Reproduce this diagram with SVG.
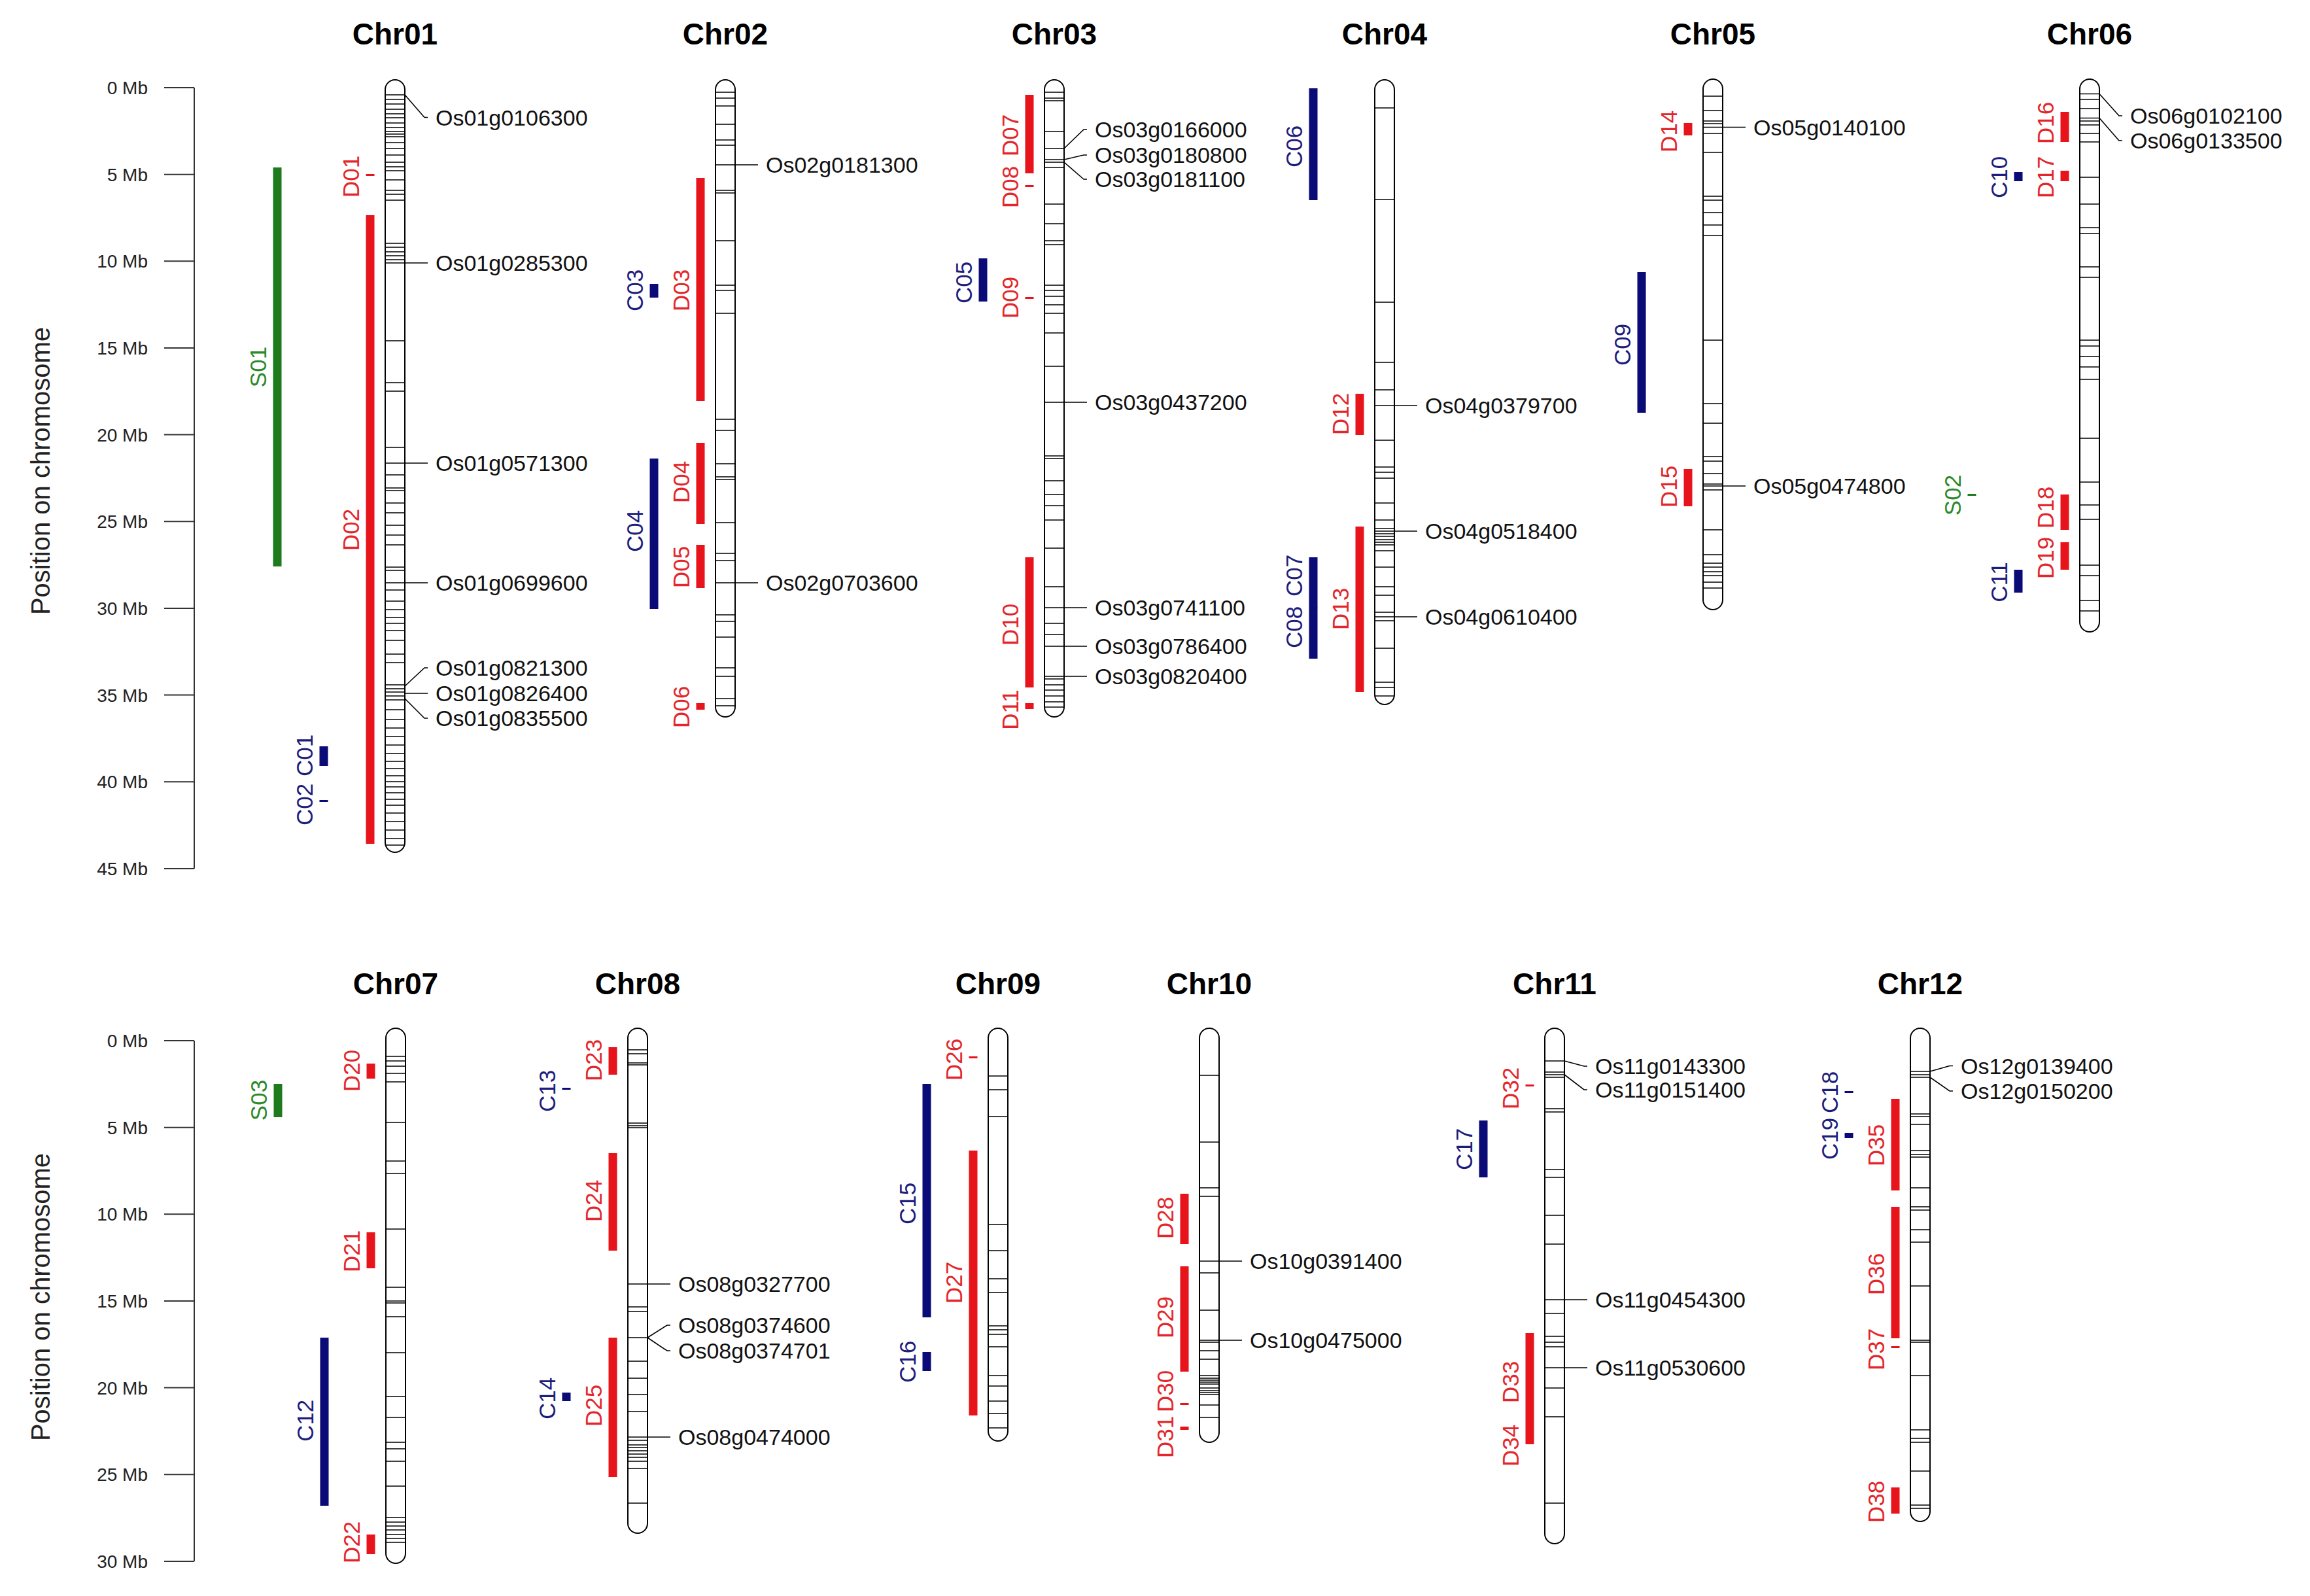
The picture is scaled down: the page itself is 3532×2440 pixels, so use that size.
<svg xmlns="http://www.w3.org/2000/svg" width="3532" height="2440" viewBox="0 0 3532 2440">
<style>
text{font-family:"Liberation Sans",Arial,Helvetica,sans-serif}
.bg{fill:#fff}
.title{font-size:46px;font-weight:bold;fill:#000;text-anchor:middle}
.tick{font-size:28px;fill:#222;text-anchor:end}
.atitle{font-size:40px;fill:#222;text-anchor:middle}
.axis{stroke:#333;stroke-width:2;fill:none}
.chr{fill:#fff;stroke:#000;stroke-width:2}
.band{stroke:#000;stroke-width:1.6;fill:none}
.gene{font-size:34px;fill:#111}
.rl{font-size:35px;text-anchor:middle}
.tr{fill:#e3262b}.tb{fill:#1d1d7c}.tg{fill:#2b8a2b}
.br{fill:#e8141c}.bb{fill:#0b0b78}.bg2{fill:#1d7a1d}
.conn{stroke:#000;stroke-width:1.6;fill:none}
</style>
<rect class="bg" x="0" y="0" width="3532" height="2440"/>

<g id="axis-top">
<text class="atitle" transform="translate(76,720) rotate(-90)">Position on chromosome</text>
<path class="axis" d="M297,134V1328M251,134H297M251,266.7H297M251,399.3H297M251,532H297M251,664.6H297M251,797.3H297M251,930H297M251,1062.6H297M251,1195.2H297M251,1327.9H297"/>
<text class="tick" x="226" y="144">0 Mb</text>
<text class="tick" x="226" y="277">5 Mb</text>
<text class="tick" x="226" y="409">10 Mb</text>
<text class="tick" x="226" y="542">15 Mb</text>
<text class="tick" x="226" y="675">20 Mb</text>
<text class="tick" x="226" y="807">25 Mb</text>
<text class="tick" x="226" y="940">30 Mb</text>
<text class="tick" x="226" y="1073">35 Mb</text>
<text class="tick" x="226" y="1205">40 Mb</text>
<text class="tick" x="226" y="1338">45 Mb</text>
</g>

<g id="axis-bottom">
<text class="atitle" transform="translate(76,1983) rotate(-90)">Position on chromosome</text>
<path class="axis" d="M297,1591V2387M251,1591H297M251,1723.7H297M251,1856.3H297M251,1989H297M251,2121.6H297M251,2254.3H297M251,2386.9H297"/>
<text class="tick" x="226" y="1601">0 Mb</text>
<text class="tick" x="226" y="1734">5 Mb</text>
<text class="tick" x="226" y="1866">10 Mb</text>
<text class="tick" x="226" y="1999">15 Mb</text>
<text class="tick" x="226" y="2132">20 Mb</text>
<text class="tick" x="226" y="2264">25 Mb</text>
<text class="tick" x="226" y="2397">30 Mb</text>
</g>

<g id="chr01">
<text class="title" x="604" y="68">Chr01</text>
<rect class="chr" x="589" y="122" width="30" height="1181" rx="15"/>
<path class="band" d="M589,145h30M589,152h30M589,159h30M589,167h30M589,174h30M589,180h30M589,188h30M589,195h30M589,201h30M589,205h30M589,209h30M589,218h30M589,227h30M589,237h30M589,248h30M589,255h30M589,261h30M589,275h30M589,291h30M589,297h30M589,306h30M589,372h30M589,378h30M589,385h30M589,391h30M589,397h30M589,402h30M589,521h30M589,585h30M589,598h30M589,684h30M589,708h30M589,726h30M589,746h30M589,750h30M589,769h30M589,784h30M589,803h30M589,818h30M589,833h30M589,867h30M589,872h30M589,891h30M589,902h30M589,919h30M589,932h30M589,944h30M589,953h30M589,964h30M589,979h30M589,1000h30M589,1013h30M589,1047h30M589,1053h30M589,1058h30M589,1064h30M589,1070h30M589,1085h30M589,1100h30M589,1113h30M589,1126h30M589,1139h30M589,1152h30M589,1164h30M589,1175h30M589,1186h30M589,1195h30M589,1203h30M589,1212h30M589,1222h30M589,1231h30M589,1243h30M589,1256h30M589,1269h30M589,1282h30M589,1292h30"/>
<rect class="bg2" x="417.5" y="256" width="13" height="610"/>
<rect class="br" x="559.5" y="266" width="13" height="3"/>
<rect class="br" x="559.5" y="329" width="13" height="961"/>
<rect class="bb" x="488.5" y="1141" width="13" height="30"/>
<rect class="bb" x="488.5" y="1223" width="13" height="3"/>
<text class="rl tg" transform="translate(407,561) rotate(-90)">S01</text>
<text class="rl tr" transform="translate(549,270) rotate(-90)">D01</text>
<text class="rl tr" transform="translate(549,810) rotate(-90)">D02</text>
<text class="rl tb" transform="translate(478,1155) rotate(-90)">C01</text>
<text class="rl tb" transform="translate(478,1230) rotate(-90)">C02</text>
<text class="gene" x="666" y="191.5">Os01g0106300</text>
<text class="gene" x="666" y="414">Os01g0285300</text>
<text class="gene" x="666" y="720">Os01g0571300</text>
<text class="gene" x="666" y="903">Os01g0699600</text>
<text class="gene" x="666" y="1033">Os01g0821300</text>
<text class="gene" x="666" y="1072">Os01g0826400</text>
<text class="gene" x="666" y="1110">Os01g0835500</text>
</g>

<g id="chr02">
<text class="title" x="1109" y="68">Chr02</text>
<rect class="chr" x="1094" y="122" width="30" height="974" rx="15"/>
<path class="band" d="M1094,141h30M1094,150h30M1094,162h30M1094,190h30M1094,214h30M1094,222h30M1094,252h30M1094,291h30M1094,295h30M1094,368h30M1094,436h30M1094,444h30M1094,479h30M1094,641h30M1094,658h30M1094,709h30M1094,729h30M1094,733h30M1094,799h30M1094,846h30M1094,857h30M1094,891h30M1094,940h30M1094,950h30M1094,974h30M1094,1021h30M1094,1034h30M1094,1068h30M1094,1079h30"/>
<rect class="br" x="1064.5" y="272" width="13" height="341"/>
<rect class="br" x="1064.5" y="677" width="13" height="124"/>
<rect class="br" x="1064.5" y="833" width="13" height="66"/>
<rect class="br" x="1064.5" y="1075" width="13" height="10"/>
<rect class="bb" x="993.5" y="434" width="13" height="21"/>
<rect class="bb" x="993.5" y="701" width="13" height="230"/>
<text class="rl tr" transform="translate(1054,444) rotate(-90)">D03</text>
<text class="rl tr" transform="translate(1054,737) rotate(-90)">D04</text>
<text class="rl tr" transform="translate(1054,867) rotate(-90)">D05</text>
<text class="rl tr" transform="translate(1054,1081) rotate(-90)">D06</text>
<text class="rl tb" transform="translate(983,444) rotate(-90)">C03</text>
<text class="rl tb" transform="translate(983,812) rotate(-90)">C04</text>
<text class="gene" x="1171" y="264">Os02g0181300</text>
<text class="gene" x="1171" y="903">Os02g0703600</text>
</g>

<g id="chr03">
<text class="title" x="1612" y="68">Chr03</text>
<rect class="chr" x="1597" y="122" width="30" height="974" rx="15"/>
<path class="band" d="M1597,141h30M1597,150h30M1597,154h30M1597,201h30M1597,227h30M1597,244h30M1597,248h30M1597,256h30M1597,312h30M1597,342h30M1597,368h30M1597,374h30M1597,436h30M1597,444h30M1597,453h30M1597,466h30M1597,479h30M1597,509h30M1597,560h30M1597,615h30M1597,697h30M1597,701h30M1597,735h30M1597,756h30M1597,773h30M1597,795h30M1597,838h30M1597,897h30M1597,929h30M1597,953h30M1597,970h30M1597,988h30M1597,1034h30M1597,1038h30M1597,1047h30M1597,1055h30M1597,1064h30M1597,1073h30M1597,1081h30"/>
<rect class="br" x="1567.5" y="145" width="13" height="120"/>
<rect class="br" x="1567.5" y="283" width="13" height="3"/>
<rect class="br" x="1567.5" y="454" width="13" height="3"/>
<rect class="br" x="1567.5" y="852" width="13" height="199"/>
<rect class="br" x="1567.5" y="1075" width="13" height="9"/>
<rect class="bb" x="1496.5" y="395" width="13" height="66"/>
<text class="rl tr" transform="translate(1557,207) rotate(-90)">D07</text>
<text class="rl tr" transform="translate(1557,286) rotate(-90)">D08</text>
<text class="rl tr" transform="translate(1557,455) rotate(-90)">D09</text>
<text class="rl tr" transform="translate(1557,955) rotate(-90)">D10</text>
<text class="rl tr" transform="translate(1557,1085) rotate(-90)">D11</text>
<text class="rl tb" transform="translate(1486,432) rotate(-90)">C05</text>
<text class="gene" x="1674" y="210">Os03g0166000</text>
<text class="gene" x="1674" y="249">Os03g0180800</text>
<text class="gene" x="1674" y="286">Os03g0181100</text>
<text class="gene" x="1674" y="627">Os03g0437200</text>
<text class="gene" x="1674" y="941">Os03g0741100</text>
<text class="gene" x="1674" y="1000">Os03g0786400</text>
<text class="gene" x="1674" y="1046">Os03g0820400</text>
</g>

<g id="chr04">
<text class="title" x="2117" y="68">Chr04</text>
<rect class="chr" x="2102" y="122" width="30" height="955" rx="15"/>
<path class="band" d="M2102,165h30M2102,305h30M2102,462h30M2102,554h30M2102,596h30M2102,620h30M2102,673h30M2102,714h30M2102,722h30M2102,731h30M2102,769h30M2102,795h30M2102,808h30M2102,812h30M2102,816h30M2102,820h30M2102,825h30M2102,829h30M2102,833h30M2102,842h30M2102,867h30M2102,897h30M2102,910h30M2102,936h30M2102,943h30M2102,949h30M2102,991h30M2102,1043h30M2102,1051h30M2102,1064h30"/>
<rect class="bb" x="2001.5" y="135" width="13" height="171"/>
<rect class="br" x="2072.5" y="602" width="13" height="63"/>
<rect class="br" x="2072.5" y="805" width="13" height="253"/>
<rect class="bb" x="2001.5" y="852" width="13" height="78"/>
<rect class="bb" x="2001.5" y="929" width="13" height="78"/>
<text class="rl tb" transform="translate(1991,224) rotate(-90)">C06</text>
<text class="rl tr" transform="translate(2062,633) rotate(-90)">D12</text>
<text class="rl tr" transform="translate(2062,931) rotate(-90)">D13</text>
<text class="rl tb" transform="translate(1991,880) rotate(-90)">C07</text>
<text class="rl tb" transform="translate(1991,959) rotate(-90)">C08</text>
<text class="gene" x="2179" y="632">Os04g0379700</text>
<text class="gene" x="2179" y="824">Os04g0518400</text>
<text class="gene" x="2179" y="955">Os04g0610400</text>
</g>

<g id="chr05">
<text class="title" x="2619" y="68">Chr05</text>
<rect class="chr" x="2604" y="121" width="30" height="811" rx="15"/>
<path class="band" d="M2604,147h30M2604,169h30M2604,185h30M2604,189h30M2604,194.5h30M2604,204h30M2604,233h30M2604,300h30M2604,306h30M2604,325h30M2604,344h30M2604,360h30M2604,520h30M2604,617h30M2604,647h30M2604,698h30M2604,705h30M2604,724h30M2604,740h30M2604,743h30M2604,749h30M2604,810h30M2604,848h30M2604,861h30M2604,867h30M2604,874h30M2604,880h30M2604,890h30M2604,899h30"/>
<rect class="br" x="2574.5" y="188" width="13" height="19"/>
<rect class="bb" x="2503.5" y="416" width="13" height="215"/>
<rect class="br" x="2574.5" y="717" width="13" height="57"/>
<text class="rl tr" transform="translate(2564,201) rotate(-90)">D14</text>
<text class="rl tb" transform="translate(2493,527) rotate(-90)">C09</text>
<text class="rl tr" transform="translate(2564,744) rotate(-90)">D15</text>
<text class="gene" x="2681" y="206.5">Os05g0140100</text>
<text class="gene" x="2681" y="755">Os05g0474800</text>
</g>

<g id="chr06">
<text class="title" x="3195" y="68">Chr06</text>
<rect class="chr" x="3180" y="121" width="30" height="845" rx="15"/>
<path class="band" d="M3180,143.5h30M3180,152h30M3180,166h30M3180,180.5h30M3180,185h30M3180,191h30M3180,204h30M3180,217h30M3180,271h30M3180,312h30M3180,348h30M3180,357h30M3180,408h30M3180,424h30M3180,520h30M3180,529h30M3180,545h30M3180,561h30M3180,580h30M3180,670h30M3180,737h30M3180,772h30M3180,794h30M3180,864h30M3180,880h30M3180,918h30M3180,934h30"/>
<rect class="br" x="3150.5" y="171" width="13" height="46"/>
<rect class="br" x="3150.5" y="261" width="13" height="16"/>
<rect class="bb" x="3079.5" y="263" width="13" height="14"/>
<rect class="bg2" x="3008.5" y="755" width="13" height="3"/>
<rect class="br" x="3150.5" y="756" width="13" height="54"/>
<rect class="br" x="3150.5" y="829" width="13" height="42"/>
<rect class="bb" x="3079.5" y="871" width="13" height="35"/>
<text class="rl tr" transform="translate(3140,188) rotate(-90)">D16</text>
<text class="rl tr" transform="translate(3140,271) rotate(-90)">D17</text>
<text class="rl tb" transform="translate(3069,271) rotate(-90)">C10</text>
<text class="rl tg" transform="translate(2998,757) rotate(-90)">S02</text>
<text class="rl tr" transform="translate(3140,776) rotate(-90)">D18</text>
<text class="rl tr" transform="translate(3140,853) rotate(-90)">D19</text>
<text class="rl tb" transform="translate(3069,890) rotate(-90)">C11</text>
<text class="gene" x="3257" y="189">Os06g0102100</text>
<text class="gene" x="3257" y="227">Os06g0133500</text>
</g>

<g id="chr07">
<text class="title" x="605" y="1520">Chr07</text>
<rect class="chr" x="590" y="1572" width="30" height="818" rx="15"/>
<path class="band" d="M590,1615h30M590,1622h30M590,1630h30M590,1641h30M590,1654h30M590,1716h30M590,1775h30M590,1794h30M590,1879h30M590,1968h30M590,1989h30M590,1992h30M590,2013h30M590,2068h30M590,2135h30M590,2167h30M590,2205h30M590,2215h30M590,2234h30M590,2272h30M590,2320h30M590,2327h30M590,2333h30M590,2339h30M590,2346h30M590,2352h30M590,2358h30"/>
<rect class="bg2" x="418.5" y="1657" width="13" height="51"/>
<rect class="br" x="560.5" y="1626" width="13" height="23"/>
<rect class="br" x="560.5" y="1884" width="13" height="55"/>
<rect class="bb" x="489.5" y="2045" width="13" height="257"/>
<rect class="br" x="560.5" y="2346" width="13" height="30"/>
<text class="rl tg" transform="translate(408,1682) rotate(-90)">S03</text>
<text class="rl tr" transform="translate(550,1637) rotate(-90)">D20</text>
<text class="rl tr" transform="translate(550,1913) rotate(-90)">D21</text>
<text class="rl tb" transform="translate(479,2172) rotate(-90)">C12</text>
<text class="rl tr" transform="translate(550,2358) rotate(-90)">D22</text>
</g>

<g id="chr08">
<text class="title" x="975" y="1520">Chr08</text>
<rect class="chr" x="960" y="1572" width="30" height="772" rx="15"/>
<path class="band" d="M960,1605h30M960,1611h30M960,1625h30M960,1628h30M960,1717h30M960,1721h30M960,1724h30M960,1963h30M960,1998h30M960,2005h30M960,2045h30M960,2081h30M960,2107h30M960,2132h30M960,2158h30M960,2197h30M960,2202h30M960,2209h30M960,2213h30M960,2218h30M960,2223h30M960,2228h30M960,2234h30M960,2245h30M960,2298h30"/>
<rect class="br" x="930.5" y="1601" width="13" height="42"/>
<rect class="bb" x="859.5" y="1663" width="13" height="3"/>
<rect class="br" x="930.5" y="1763" width="13" height="149"/>
<rect class="bb" x="859.5" y="2129" width="13" height="13"/>
<rect class="br" x="930.5" y="2045" width="13" height="213"/>
<text class="rl tr" transform="translate(920,1621) rotate(-90)">D23</text>
<text class="rl tb" transform="translate(849,1668) rotate(-90)">C13</text>
<text class="rl tr" transform="translate(920,1836) rotate(-90)">D24</text>
<text class="rl tb" transform="translate(849,2138) rotate(-90)">C14</text>
<text class="rl tr" transform="translate(920,2149) rotate(-90)">D25</text>
<text class="gene" x="1037" y="1975">Os08g0327700</text>
<text class="gene" x="1037" y="2038">Os08g0374600</text>
<text class="gene" x="1037" y="2077">Os08g0374701</text>
<text class="gene" x="1037" y="2209">Os08g0474000</text>
</g>

<g id="chr09">
<text class="title" x="1526" y="1520">Chr09</text>
<rect class="chr" x="1511" y="1572" width="30" height="631" rx="15"/>
<path class="band" d="M1511,1645h30M1511,1666h30M1511,1707h30M1511,1872h30M1511,1912h30M1511,1955h30M1511,1976h30M1511,2027h30M1511,2033h30M1511,2040h30M1511,2059h30M1511,2103h30M1511,2119h30M1511,2142h30M1511,2161h30M1511,2183h30"/>
<rect class="br" x="1481.5" y="1615" width="13" height="3"/>
<rect class="bb" x="1410.5" y="1657" width="13" height="357"/>
<rect class="br" x="1481.5" y="1759" width="13" height="405"/>
<rect class="bb" x="1410.5" y="2067" width="13" height="29"/>
<text class="rl tr" transform="translate(1471,1620) rotate(-90)">D26</text>
<text class="rl tb" transform="translate(1400,1840) rotate(-90)">C15</text>
<text class="rl tr" transform="translate(1471,1961) rotate(-90)">D27</text>
<text class="rl tb" transform="translate(1400,2082) rotate(-90)">C16</text>
</g>

<g id="chr10">
<text class="title" x="1849" y="1520">Chr10</text>
<rect class="chr" x="1834" y="1572" width="30" height="633" rx="15"/>
<path class="band" d="M1834,1644h30M1834,1746h30M1834,1816h30M1834,1829h30M1834,1928h30M1834,1946h30M1834,2003h30M1834,2049h30M1834,2052h30M1834,2065h30M1834,2078h30M1834,2103h30M1834,2107h30M1834,2110h30M1834,2113h30M1834,2116h30M1834,2122h30M1834,2126h30M1834,2129h30M1834,2132h30M1834,2148h30M1834,2167h30"/>
<rect class="br" x="1804.5" y="1825" width="13" height="77"/>
<rect class="br" x="1804.5" y="1936" width="13" height="161"/>
<rect class="br" x="1804.5" y="2145" width="13" height="3"/>
<rect class="br" x="1804.5" y="2181" width="13" height="5"/>
<text class="rl tr" transform="translate(1794,1862) rotate(-90)">D28</text>
<text class="rl tr" transform="translate(1794,2014) rotate(-90)">D29</text>
<text class="rl tr" transform="translate(1794,2127) rotate(-90)">D30</text>
<text class="rl tr" transform="translate(1794,2197) rotate(-90)">D31</text>
<text class="gene" x="1911" y="1940">Os10g0391400</text>
<text class="gene" x="1911" y="2061">Os10g0475000</text>
</g>

<g id="chr11">
<text class="title" x="2377" y="1520">Chr11</text>
<rect class="chr" x="2362" y="1572" width="30" height="788" rx="15"/>
<path class="band" d="M2362,1622h30M2362,1639h30M2362,1643h30M2362,1647h30M2362,1695h30M2362,1700h30M2362,1788h30M2362,1800h30M2362,1858h30M2362,1902h30M2362,1987h30M2362,2008h30M2362,2043h30M2362,2052h30M2362,2059h30M2362,2091h30M2362,2122h30M2362,2166h30M2362,2298h30"/>
<rect class="br" x="2332.5" y="1658" width="13" height="3"/>
<rect class="bb" x="2261.5" y="1713" width="13" height="87"/>
<rect class="br" x="2332.5" y="2038" width="13" height="170"/>
<text class="rl tr" transform="translate(2322,1664) rotate(-90)">D32</text>
<text class="rl tb" transform="translate(2251,1757) rotate(-90)">C17</text>
<text class="rl tr" transform="translate(2322,2113) rotate(-90)">D33</text>
<text class="rl tr" transform="translate(2322,2210) rotate(-90)">D34</text>
<text class="gene" x="2439" y="1642">Os11g0143300</text>
<text class="gene" x="2439" y="1678">Os11g0151400</text>
<text class="gene" x="2439" y="1999">Os11g0454300</text>
<text class="gene" x="2439" y="2103">Os11g0530600</text>
</g>

<g id="chr12">
<text class="title" x="2936" y="1520">Chr12</text>
<rect class="chr" x="2921" y="1572" width="30" height="754" rx="15"/>
<path class="band" d="M2921,1638h30M2921,1643h30M2921,1647h30M2921,1703h30M2921,1707h30M2921,1719h30M2921,1759h30M2921,1765h30M2921,1769h30M2921,1816h30M2921,1845h30M2921,1850h30M2921,1880h30M2921,1899h30M2921,1966h30M2921,2049h30M2921,2052h30M2921,2103h30M2921,2186h30M2921,2199h30M2921,2205h30M2921,2249h30M2921,2301h30M2921,2306h30"/>
<rect class="bb" x="2820.5" y="1668" width="13" height="3"/>
<rect class="bb" x="2820.5" y="1732" width="13" height="8"/>
<rect class="br" x="2891.5" y="1680" width="13" height="140"/>
<rect class="br" x="2891.5" y="1845" width="13" height="201"/>
<rect class="br" x="2891.5" y="2058" width="13" height="3"/>
<rect class="br" x="2891.5" y="2274" width="13" height="40"/>
<text class="rl tb" transform="translate(2810,1670) rotate(-90)">C18</text>
<text class="rl tb" transform="translate(2810,1741) rotate(-90)">C19</text>
<text class="rl tr" transform="translate(2881,1751) rotate(-90)">D35</text>
<text class="rl tr" transform="translate(2881,1948) rotate(-90)">D36</text>
<text class="rl tr" transform="translate(2881,2063) rotate(-90)">D37</text>
<text class="rl tr" transform="translate(2881,2296) rotate(-90)">D38</text>
<text class="gene" x="2998" y="1641.5">Os12g0139400</text>
<text class="gene" x="2998" y="1680">Os12g0150200</text>
</g>

<g id="connectors">
<path class="conn" d="M619,145L649,179.5H654"/>
<path class="conn" d="M619,402H654"/>
<path class="conn" d="M619,708H654"/>
<path class="conn" d="M619,891H654"/>
<path class="conn" d="M619,1049L649,1021H654"/>
<path class="conn" d="M619,1060H654"/>
<path class="conn" d="M619,1068L649,1098H654"/>
<path class="conn" d="M1124,252H1159"/>
<path class="conn" d="M1124,891H1159"/>
<path class="conn" d="M1627,227L1657,198H1662"/>
<path class="conn" d="M1627,244L1657,237H1662"/>
<path class="conn" d="M1627,248L1657,274H1662"/>
<path class="conn" d="M1627,615H1662"/>
<path class="conn" d="M1627,929H1662"/>
<path class="conn" d="M1627,988H1662"/>
<path class="conn" d="M1627,1034H1662"/>
<path class="conn" d="M2132,620H2167"/>
<path class="conn" d="M2132,812H2167"/>
<path class="conn" d="M2132,943H2167"/>
<path class="conn" d="M2634,194.5H2669"/>
<path class="conn" d="M2634,743H2669"/>
<path class="conn" d="M3210,143.5L3240,177H3245"/>
<path class="conn" d="M3210,180.5L3240,215H3245"/>
<path class="conn" d="M990,1963H1025"/>
<path class="conn" d="M990,2045L1020,2026H1025"/>
<path class="conn" d="M990,2045L1020,2065H1025"/>
<path class="conn" d="M990,2197H1025"/>
<path class="conn" d="M1864,1928H1899"/>
<path class="conn" d="M1864,2049H1899"/>
<path class="conn" d="M2392,1622L2422,1630H2427"/>
<path class="conn" d="M2392,1643L2422,1666H2427"/>
<path class="conn" d="M2392,1987H2427"/>
<path class="conn" d="M2392,2091H2427"/>
<path class="conn" d="M2951,1638L2981,1629.5H2986"/>
<path class="conn" d="M2951,1647L2981,1668H2986"/>
</g>
</svg>
